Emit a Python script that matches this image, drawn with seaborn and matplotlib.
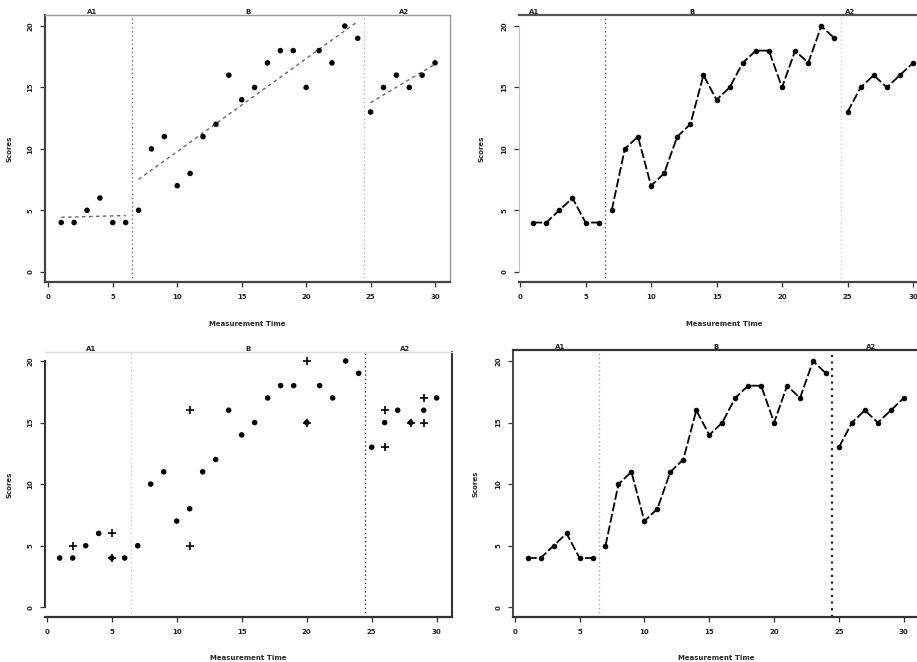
import numpy as np
import pandas as pd
import matplotlib
matplotlib.use("Agg")
import matplotlib.pyplot as plt
import seaborn as sns

# Observations per phase: measurement time and score
time_a1 = [1, 2, 3, 4, 5, 6]
score_a1 = [4, 4, 5, 6, 4, 4]
time_b = [7, 8, 9, 10, 11, 12, 13, 14, 15, 16, 17, 18, 19, 20, 21, 22, 23, 24]
score_b = [5, 10, 11, 7, 8, 11, 12, 16, 14, 15, 17, 18, 18, 15, 18, 17, 20, 19]
time_a2 = [25, 26, 27, 28, 29, 30]
score_a2 = [13, 15, 16, 15, 16, 17]

# Additional observations marked with "+"
plus_time = [2, 5, 5, 11, 11, 20, 20, 26, 26, 28, 29, 29]
plus_score = [5, 6, 4, 16, 5, 20, 15, 16, 13, 15, 17, 15]

phase_names = ["A1", "B", "A2"]
phase_changes = [6.5, 24.5]
x_ticks = [0, 5, 10, 15, 20, 25, 30]
y_ticks = [0, 5, 10, 15, 20]

df = pd.DataFrame({
    "time": time_a1 + time_b + time_a2,
    "score": score_a1 + score_b + score_a2,
    "phase": [phase_names[0]] * len(time_a1) + [phase_names[1]] * len(time_b)
             + [phase_names[2]] * len(time_a2),
})
plus_df = pd.DataFrame({"time": plus_time, "score": plus_score})

sns.set_theme(style="ticks")
plt.rcParams["font.family"] = ["DejaVu Sans"]
plt.rcParams["font.weight"] = "bold"

W, H = 917, 662
fig = plt.figure(figsize=(W / 100, H / 100), dpi=100)


def px_axes(left, top, right, bottom):
    return fig.add_axes([left / W, 1 - bottom / H, (right - left) / W, (bottom - top) / H])


def style_axes(ax, xlim, ylim, spine_cols, ylab_px, xlab_px, left_bounds=False):
    ax.set_xlim(*xlim)
    ax.set_ylim(*ylim)
    ax.set_xticks(x_ticks)
    ax.set_yticks(y_ticks)
    ax.set_xticklabels([str(t) for t in x_ticks], fontsize=5, fontweight="bold", color="#222")
    ax.set_yticklabels([str(t) for t in y_ticks], fontsize=5, fontweight="bold", color="#222",
                       rotation=90, va="center")
    ax.tick_params(axis="both", direction="out", length=3.5, width=0.9, color="#333", pad=5)
    for side, (col, lw) in spine_cols.items():
        if col is None:
            ax.spines[side].set_visible(False)
        else:
            ax.spines[side].set_visible(True)
            ax.spines[side].set_color(col)
            ax.spines[side].set_linewidth(lw)
    if left_bounds:
        ax.spines["left"].set_bounds(0, 20)
    ax.set_xlabel("Measurement Time", fontsize=5, fontweight="bold")
    ax.set_ylabel("Scores", fontsize=5, fontweight="bold")
    ax.yaxis.set_label_coords(*ylab_px)
    ax.xaxis.set_label_coords(*xlab_px)


def phase_labels(ax, xs):
    for name, x in zip(phase_names, xs):
        ax.text(x, 1.0, name, transform=ax.get_xaxis_transform(), ha="center", va="bottom",
                fontsize=5, fontweight="bold", color="#222")


def phase_lines(ax, cols, lw=(1.0, 1.0)):
    for x, c, w in zip(phase_changes, cols, lw):
        ax.axvline(x, color=c, linestyle=(0, (1, 2)), linewidth=w, zorder=1)


# --- top left: scores with per-phase trend lines ---
ax1 = px_axes(45, 15, 450, 282)
phase_lines(ax1, ["#777777", "#bbbbbb"])
for name in phase_names:
    sub = df[df["phase"] == name]
    sns.regplot(data=sub, x="time", y="score", ax=ax1, ci=None, scatter=False, truncate=True,
                line_kws={"color": "#666666", "linewidth": 1.0, "linestyle": (0, (2.5, 2.5))})
sns.scatterplot(data=df, x="time", y="score", ax=ax1, color="black", s=16,
                edgecolor="none", zorder=3, legend=False)
style_axes(ax1, (-0.26, 31.16), (-0.84, 20.9),
           {"left": ("#444", 1.6), "bottom": ("#444", 1.6), "top": ("#999", 1.0),
            "right": ("#999", 1.0)},
           ((12 - 45) / 405, 0.5), (0.5, -(321 - 282) / 267))
phase_labels(ax1, [3.4, 15.5, 27.6])

# --- top right: connected scores ---
ax2 = px_axes(519, 15, 929, 282)
phase_lines(ax2, ["#555555", "#cccccc"])
sns.lineplot(data=df, x="time", y="score", units="phase", estimator=None, ax=ax2,
             color="black", linewidth=1.3, dashes=False, marker="o", markersize=4,
             markeredgewidth=0, zorder=3, legend=False)
for line in ax2.lines[2:]:
    line.set_dashes((5, 1.5))
style_axes(ax2, (-0.08, 31.22), (-0.84, 20.9),
           {"left": ("#bbbbbb", 0.8), "bottom": ("#444", 1.6), "top": ("#555", 1.6),
            "right": (None, 0)},
           ((485 - 519) / 410, 0.5), (0.5, -(321 - 282) / 267), left_bounds=True)
phase_labels(ax2, [1.1, 13.1, 25.2])

# --- bottom left: scatter with "+" observations ---
ax3 = px_axes(45, 352, 452, 617)
phase_lines(ax3, ["#cccccc", "#333333"])
sns.scatterplot(data=df, x="time", y="score", ax=ax3, color="black", s=16,
                edgecolor="none", zorder=3, legend=False)
sns.scatterplot(data=plus_df, x="time", y="score", ax=ax3, color="black", marker="+",
                s=30, linewidth=1.2, zorder=3, legend=False)
style_axes(ax3, (-0.13, 31.18), (-0.79, 20.73),
           {"left": ("#333", 1.5), "bottom": ("#333", 1.6), "top": ("#dddddd", 1.0),
            "right": ("#333", 1.5)},
           ((12 - 45) / 407, 0.5), (0.5, -(655 - 617) / 265), left_bounds=True)
phase_labels(ax3, [3.4, 15.5, 27.6])

# --- bottom right: connected scores ---
ax4 = px_axes(513, 350, 919, 617)
phase_lines(ax4, ["#aaaaaa", "#222222"], lw=(1.0, 1.6))
sns.lineplot(data=df, x="time", y="score", units="phase", estimator=None, ax=ax4,
             color="black", linewidth=1.3, dashes=False, marker="o", markersize=4,
             markeredgewidth=0, zorder=3, legend=False)
for line in ax4.lines[2:]:
    line.set_dashes((5, 1.5))
style_axes(ax4, (-0.13, 31.17), (-0.79, 20.9),
           {"left": ("#444", 1.4), "bottom": ("#333", 1.6), "top": ("#333", 1.6),
            "right": (None, 0)},
           ((478 - 513) / 406, 0.5), (0.5, -(655 - 617) / 267))
phase_labels(ax4, [3.5, 15.5, 27.5])

fig.savefig("out.png", dpi=100)
